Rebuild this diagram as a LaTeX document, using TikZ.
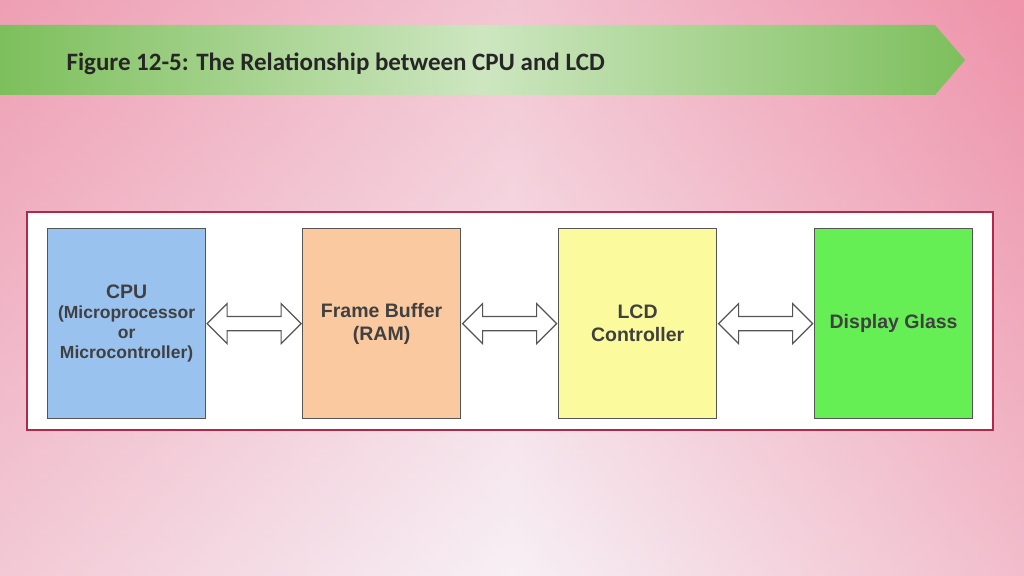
\documentclass[tikz,border=0pt]{standalone}
\usepackage{fontspec}
\setmainfont{Liberation Sans}
\newfontfamily\titlefont{Carlito}
\usetikzlibrary{shapes.arrows,calc}
\definecolor{pinkA}{HTML}{EFA9BC}
\definecolor{pinkB}{HTML}{F7F0F5}
\definecolor{pinkC}{HTML}{EE93AA}
\definecolor{grA}{HTML}{7DBF5C}
\definecolor{grB}{HTML}{CDE6C0}
\definecolor{frame}{HTML}{B0284A}
\definecolor{boxline}{HTML}{555555}
\begin{document}
\begin{tikzpicture}[x=1pt,y=-1pt,
  blk/.style={draw=boxline,line width=1.2pt,minimum width=158pt,minimum height=190pt,anchor=north west,inner sep=0pt,align=center,font=\bfseries\fontsize{19.5}{23}\selectfont,text=black!75},
  arr/.style={shape=double arrow,draw=boxline,line width=1.2pt,fill=white,minimum width=40pt,double arrow head extend=10pt,minimum height=94pt,inner sep=5pt}]
\useasboundingbox (0,0) rectangle (1024,575);
\shade[left color=pinkA,right color=pinkC,middle color=pinkB] (0,0) rectangle (1024,575);
\shade[top color=pinkC,bottom color=pinkB,opacity=0.45] (0,0) rectangle (1024,575);
\shade[left color=grA,right color=grA,middle color=grB] (0,25) -- (935,25) -- (965,60) -- (935,95) -- (0,95) -- cycle;
\node[anchor=west,font=\titlefont\bfseries\fontsize{25}{30}\selectfont,text=black!85] (title) at (63,64) {Figure 12-5: The Relationship between CPU and LCD};
\draw[frame,line width=2pt,fill=white] (27,212) rectangle (993,430);
\node[blk,fill={rgb,255:red,153;green,194;blue,239}] (cpu) at (47,228) {CPU\\[-3pt]{\fontsize{17.5}{21}\selectfont (Microprocessor}\\[-3pt]{\fontsize{17.5}{21}\selectfont or}\\[-3pt]{\fontsize{17.5}{21}\selectfont Microcontroller)}};
\node[blk,fill={rgb,255:red,250;green,201;blue,160}] (fb) at (302,228) {Frame Buffer\\(RAM)};
\node[blk,fill={rgb,255:red,251;green,251;blue,158}] (lcd) at (558,228) {LCD\\Controller};
\node[blk,fill={rgb,255:red,102;green,238;blue,85}] (dg) at (814,228) {Display Glass};
\node[arr] (a1) at ($(cpu.east)!0.5!(fb.west)$) {};
\node[arr] (a2) at ($(fb.east)!0.5!(lcd.west)$) {};
\node[arr] (a3) at ($(lcd.east)!0.5!(dg.west)$) {};
\end{tikzpicture}
\end{document}
